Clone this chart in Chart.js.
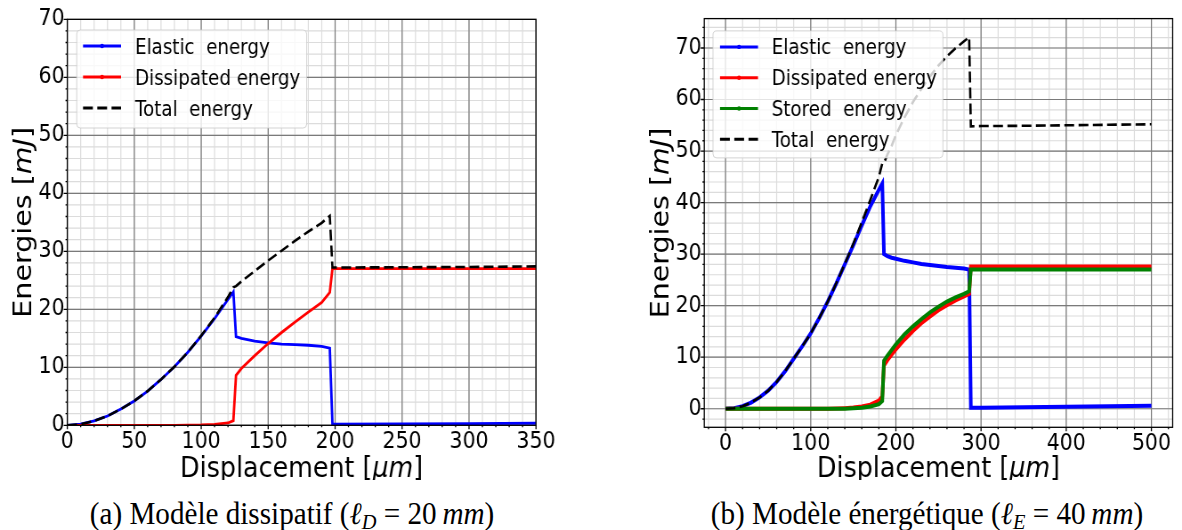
<!DOCTYPE html>
<html>
<head>
<meta charset="utf-8">
<script src="https://cdn.jsdelivr.net/npm/chart.js@4.4.0/dist/chart.umd.min.js"></script>
<style>
  html, body { margin: 0; padding: 0; background: #fff; }
  body { width: 1182px; height: 530px; position: relative; overflow: hidden; }
  /* the original figure is squeezed horizontally, so the panels are too */
  .panel { position: absolute; top: 0; height: 480px; transform-origin: 0 0; transform: scaleX(0.89); }
  #panelA { left: 0; width: 719px; }
  #panelB { left: 640px; width: 609px; }
  .caption { position: absolute; top: 496px; font-family: "Liberation Serif", serif; font-size: 31px;
             white-space: nowrap; transform: translateX(-50%) scaleX(0.94); color: #000; }
  .caption i { font-style: italic; }
  .caption sub { font-size: 0.7em; font-style: italic; vertical-align: -0.25em; }
</style>
</head>
<body>
<div class="panel" id="panelA"><canvas id="chartA"></canvas></div>
<div class="panel" id="panelB"><canvas id="chartB"></canvas></div>
<div class="caption" style="left:292px">(a) Modèle dissipatif (<i>ℓ</i><sub>D</sub> = 20&thinsp;<i>mm</i>)</div>
<div class="caption" style="left:927px">(b) Modèle énergétique (<i>ℓ</i><sub>E</sub> = 40&thinsp;<i>mm</i>)</div>

<script>
/*************** data, panel (a) : dissipative model ***************/
const dispA = [0, 10, 20, 30, 40, 50, 60, 70, 80, 90, 100, 110, 120, 124, 126, 130, 140, 150, 160, 170, 180, 190, 196, 198, 250, 300, 350];
const elasticA = [0, 0.2, 0.75, 1.6, 2.8, 4.2, 5.9, 7.9, 10.1, 12.6, 15.4, 18.4, 21.7, 23.0, 15.3, 15.0, 14.5, 14.2, 14.0, 13.9, 13.8, 13.6, 13.3, 0.2, 0.25, 0.3, 0.35];
const dissipatedA = [0, 0, 0, 0, 0, 0, 0, 0, 0, 0.02, 0.05, 0.15, 0.4, 0.8, 8.6, 9.8, 12.0, 14.1, 16.0, 17.8, 19.5, 21.2, 22.9, 27.0, 27.0, 27.0, 27.0];
const totalA = [0, 0.2, 0.75, 1.6, 2.8, 4.2, 5.9, 7.9, 10.1, 12.6, 15.45, 18.55, 22.1, 23.8, 24.0, 24.8, 26.6, 28.4, 30.1, 31.8, 33.4, 34.9, 36.1, 27.2, 27.25, 27.3, 27.4];
const xTicksA = [0, 50, 100, 150, 200, 250, 300, 350];
const yTicksA = [0, 10, 20, 30, 40, 50, 60, 70];
const labelsA = ['Elastic  energy', 'Dissipated energy', 'Total  energy'];

/*************** data, panel (b) : energetic model ***************/
const dispB = [0, 10, 20, 30, 40, 50, 60, 70, 80, 90, 100, 110, 120, 130, 140, 150, 160, 170, 180, 184,
               186, 190, 195, 200, 210, 220, 230, 240, 250, 260, 270, 280, 286, 288, 300, 350, 400, 450, 500];
const elasticB = [0, 0.1, 0.5, 1.2, 2.2, 3.5, 5.2, 7.3, 9.7, 12.1, 14.6, 17.6, 20.8, 24.3, 28.0, 31.7, 35.6, 39.3, 42.5, 43.7,
                  30.0, 29.6, 29.3, 29.1, 28.7, 28.4, 28.1, 27.9, 27.7, 27.5, 27.35, 27.2, 27.0, 0.2, 0.2, 0.3, 0.4, 0.5, 0.6];
const dissipatedB = [0, 0, 0, 0, 0, 0, 0, 0, 0, 0, 0, 0, 0.02, 0.05, 0.12, 0.22, 0.42, 0.8, 1.6, 2.4,
                     8.4, 9.4, 10.5, 11.5, 13.4, 15.1, 16.6, 17.9, 19.1, 20.1, 21.0, 21.8, 22.3, 27.6, 27.6, 27.6, 27.6, 27.6, 27.6];
const storedB = [0, 0, 0, 0, 0, 0, 0, 0, 0, 0, 0, 0, 0, 0, 0, 0.1, 0.2, 0.45, 0.9, 1.5,
                 9.3, 10.3, 11.4, 12.5, 14.4, 16.0, 17.4, 18.7, 19.8, 20.8, 21.6, 22.3, 22.8, 27.0, 27.0, 27.0, 27.0, 27.0, 27.0];
const totalB = [0, 0.1, 0.5, 1.2, 2.2, 3.5, 5.2, 7.3, 9.7, 12.1, 14.6, 17.6, 20.8, 24.35, 28.1, 32.0, 36.2, 40.55, 45.0, 47.6,
                47.7, 49.3, 51.0, 53.1, 56.5, 59.5, 62.1, 64.5, 66.6, 68.4, 69.95, 71.3, 72.1, 54.8, 54.85, 54.9, 55.0, 55.1, 55.2];
const xTicksB = [0, 100, 200, 300, 400, 500];
const yTicksB = [0, 10, 20, 30, 40, 50, 60, 70];
const labelsB = ['Elastic  energy', 'Dissipated energy', 'Stored  energy', 'Total  energy'];

const tickFont = { family: 'DejaVu Sans', size: 23 };

function series(xs, ys) {
    return xs.map((x, i) => ({ x: x, y: ys[i] }));
}

/*************** grid, frame and tick marks (matplotlib look) ***************/
function steps(min, max, step) {
    const out = [];
    for (let i = Math.ceil(min / step - 1e-9); i * step <= max + 1e-9; i++) out.push(i * step);
    return out;
}

const frameGrid = {
    id: 'frameGrid',
    beforeDatasetsDraw(chart, args, o) {
        const { ctx, chartArea: a, scales: { x, y } } = chart;
        ctx.save();
        ctx.beginPath();
        ctx.rect(a.left, a.top, a.width, a.height);
        ctx.clip();
        const pass = (xs, ys, color, width) => {
            ctx.strokeStyle = color;
            ctx.lineWidth = width;
            ctx.beginPath();
            xs.forEach(v => { const p = x.getPixelForValue(v); ctx.moveTo(p, a.top); ctx.lineTo(p, a.bottom); });
            ys.forEach(v => { const p = y.getPixelForValue(v); ctx.moveTo(a.left, p); ctx.lineTo(a.right, p); });
            ctx.stroke();
        };
        pass(steps(x.min, x.max, o.xMinor), steps(y.min, y.max, o.yMinor), '#dcdcdc', 1.2);
        pass(steps(x.min, x.max, o.xMajor), steps(y.min, y.max, o.yMajor), '#7a7a7a', 1.2);
        ctx.restore();
    },
    afterDatasetsDraw(chart, args, o) {
        const { ctx, chartArea: a, scales: { x, y } } = chart;
        ctx.save();
        ctx.strokeStyle = '#000';
        ctx.lineWidth = 1.3;
        ctx.strokeRect(a.left, a.top, a.width, a.height);
        ctx.beginPath();
        steps(x.min, x.max, o.xMinor).forEach(v => {
            const p = x.getPixelForValue(v);
            const len = Math.abs(v / o.xMajor - Math.round(v / o.xMajor)) < 1e-6 ? 4 : 2;
            ctx.moveTo(p, a.bottom); ctx.lineTo(p, a.bottom + len);
        });
        steps(y.min, y.max, o.yMinor).forEach(v => {
            const p = y.getPixelForValue(v);
            const len = Math.abs(v / o.yMajor - Math.round(v / o.yMajor)) < 1e-6 ? 4 : 2;
            ctx.moveTo(a.left, p); ctx.lineTo(a.left - len, p);
        });
        ctx.stroke();
        ctx.restore();
    }
};

/*************** legend box inside the plot ***************/
const boxLegend = {
    id: 'boxLegend',
    afterDatasetsDraw(chart, args, o) {
        const { ctx, chartArea: a } = chart;
        const left = a.left + o.dx, top = a.top + o.dy;
        ctx.save();
        ctx.beginPath();
        ctx.roundRect(left, top, o.w, o.h, 4);
        ctx.fillStyle = 'rgba(255,255,255,0.8)';
        ctx.fill();
        ctx.strokeStyle = 'rgba(200,200,200,0.8)';
        ctx.lineWidth = 1;
        ctx.stroke();
        ctx.font = '20.5px "DejaVu Sans"';
        ctx.textBaseline = 'alphabetic';
        chart.data.datasets.forEach((ds, i) => {
            const yy = top + o.row0 + i * o.gap;
            ctx.strokeStyle = ds.borderColor;
            ctx.lineWidth = 3;
            ctx.setLineDash(ds.borderDash || []);
            ctx.beginPath();
            ctx.moveTo(left + o.lx0, yy);
            ctx.lineTo(left + o.lx1, yy);
            ctx.stroke();
            ctx.setLineDash([]);
            if (!ds.borderDash) {
                ctx.fillStyle = ds.borderColor;
                ctx.beginPath();
                ctx.arc(left + (o.lx0 + o.lx1) / 2, yy, 2.2, 0, Math.PI * 2);
                ctx.fill();
            }
            ctx.fillStyle = '#000';
            ctx.fillText(ds.label, left + o.tx, yy + 7.5);
        });
        ctx.restore();
    }
};

/*************** axis titles with italic units ***************/
function richText(ctx, parts, size, baseY) {
    let total = 0;
    const widths = parts.map(p => {
        ctx.font = (p[1] ? 'italic ' : '') + size + 'px "DejaVu Sans"';
        const w = ctx.measureText(p[0]).width;
        total += w;
        return w;
    });
    let x = -total / 2;
    parts.forEach((p, i) => {
        ctx.font = (p[1] ? 'italic ' : '') + size + 'px "DejaVu Sans"';
        ctx.fillText(p[0], x, baseY);
        x += widths[i];
    });
}

const axisTitles = {
    id: 'axisTitles',
    afterDraw(chart, args, o) {
        const { ctx, chartArea: a } = chart;
        ctx.save();
        ctx.fillStyle = '#000';
        ctx.textBaseline = 'alphabetic';
        ctx.save();
        ctx.translate((a.left + a.right) / 2, o.xBase);
        richText(ctx, [['Displacement [', false], ['μm', true], [']', false]], o.size, 0);
        ctx.restore();
        ctx.save();
        ctx.translate(a.left - o.yOff, (a.top + a.bottom) / 2);
        ctx.rotate(-Math.PI / 2);
        richText(ctx, [['Energies [', false], ['mJ', true], [']', false]], o.size, o.size * 0.36);
        ctx.restore();
        ctx.restore();
    }
};

function makeScales(xMin, xMax, xTicks, yMin, yMax, yTicks, yWidth) {
    const common = {
        type: 'linear',
        grid: { display: false, drawTicks: false },
        border: { display: false },
    };
    return {
        x: Object.assign({}, common, {
            min: xMin, max: xMax,
            afterBuildTicks: s => { s.ticks = xTicks.map(v => ({ value: v })); },
            afterFit: s => { s.height = 50; },
            ticks: { font: tickFont, color: '#000', padding: 3, maxRotation: 0, autoSkip: false, callback: v => String(v) }
        }),
        y: Object.assign({}, common, {
            min: yMin, max: yMax,
            afterBuildTicks: s => { s.ticks = yTicks.map(v => ({ value: v })); },
            afterFit: s => { s.width = yWidth; },
            ticks: { font: tickFont, color: '#000', padding: 3, autoSkip: false, callback: v => String(v) }
        })
    };
}

/*************** panel (a) ***************/
new Chart(document.getElementById('chartA'), {
    type: 'line',
    data: {
        datasets: [
            { label: labelsA[0], data: series(dispA, elasticA), borderColor: '#0000ff', borderWidth: 2.8, order: 3 },
            { label: labelsA[1], data: series(dispA, dissipatedA), borderColor: '#ff0000', borderWidth: 2.8, order: 2 },
            { label: labelsA[2], data: series(dispA, totalA), borderColor: '#000000', borderWidth: 2.6, borderDash: [11, 5], order: 0 }
        ]
    },
    options: {
        responsive: true,
        maintainAspectRatio: false,
        animation: false,
        layout: { padding: { left: 0, right: 116.8, top: 19.3, bottom: 4.7 } },
        elements: { point: { radius: 0 }, line: { tension: 0 } },
        scales: makeScales(0, 350, xTicksA, 0, 70, yTicksA, 75.6),
        plugins: {
            legend: { display: false },
            tooltip: { enabled: false },
            frameGrid: { xMajor: 50, xMinor: 10, yMajor: 10, yMinor: 2 },
            boxLegend: { dx: 10.6, dy: 10.7, w: 258.4, h: 98, row0: 16, gap: 31, lx0: 7.1, lx1: 49.8, tx: 65.5 },
            axisTitles: { xBase: 477, yOff: 50.9, size: 28.5 }
        }
    },
    plugins: [frameGrid, boxLegend, axisTitles]
});

/*************** panel (b) ***************/
new Chart(document.getElementById('chartB'), {
    type: 'line',
    data: {
        datasets: [
            { label: labelsB[0], data: series(dispB, elasticB), borderColor: '#0000ff', borderWidth: 4, order: 3 },
            { label: labelsB[1], data: series(dispB, dissipatedB), borderColor: '#ff0000', borderWidth: 4, order: 2 },
            { label: labelsB[2], data: series(dispB, storedB), borderColor: '#008000', borderWidth: 4, order: 1 },
            { label: labelsB[3], data: series(dispB, totalB), borderColor: '#000000', borderWidth: 2.6, borderDash: [11, 5], order: 0 }
        ]
    },
    options: {
        responsive: true,
        maintainAspectRatio: false,
        animation: false,
        layout: { padding: { left: 0, right: 10.5, top: 18.6, bottom: 2.7 } },
        elements: { point: { radius: 0 }, line: { tension: 0 } },
        scales: makeScales(-25, 525, xTicksB, -3.6, 75.7, yTicksB, 72.2),
        plugins: {
            legend: { display: false },
            tooltip: { enabled: false },
            frameGrid: { xMajor: 100, xMinor: 20, yMajor: 10, yMinor: 2 },
            boxLegend: { dx: 9.8, dy: 12.3, w: 258.4, h: 127, row0: 16, gap: 30.8, lx0: 7.9, lx1: 50.6, tx: 66 },
            axisTitles: { xBase: 477, yOff: 50.9, size: 28.5 }
        }
    },
    plugins: [frameGrid, boxLegend, axisTitles]
});
</script>
</body>
</html>
